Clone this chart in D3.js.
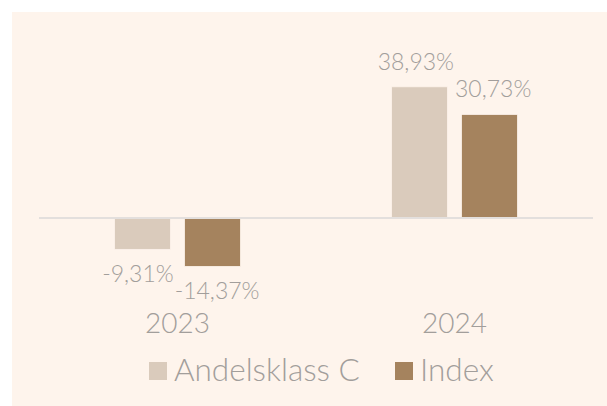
<!DOCTYPE html>
<html>
<head>
<meta charset="utf-8">
<script src="https://cdn.jsdelivr.net/npm/d3@7"></script>
<style>
  html, body { margin: 0; padding: 0; background: #ffffff; }
  svg { display: block; font-family: Lato, "Open Sans", sans-serif; font-weight: 300; }
</style>
</head>
<body>
<svg id="chart" width="607" height="406"></svg>
<script>
// chart data
const years = ["2023", "2024"];
const seriesNames = ["Andelsklass C", "Index"];
const andelsklassC = [-9.31, 38.93];
const indexValues = [-14.37, 30.73];
const seriesColors = ["#dacbbc", "#a5835e"];

const width = 607, height = 406;
const textColor = "#a29e9b";

const svg = d3.select("#chart");

// panel background
svg.append("rect")
  .attr("x", 12).attr("y", 12)
  .attr("width", width - 12).attr("height", height - 12)
  .attr("fill", "#fef4ec");

const x = d3.scaleBand()
  .domain(years)
  .range([39, 593]);

const xInner = d3.scaleBand()
  .domain(seriesNames)
  .range([-63, 63])
  .paddingInner(0.2);

const y = d3.scaleLinear()
  .domain([-20, 40])
  .range([218 + 67.4, 218 - 134.8]);

const fmt = v => d3.format(".2f")(v).replace(".", ",").replace("\u2212", "-") + "%";

const rows = [];
years.forEach((yr, i) => {
  rows.push({ year: yr, series: seriesNames[0], value: andelsklassC[i], color: seriesColors[0] });
  rows.push({ year: yr, series: seriesNames[1], value: indexValues[i], color: seriesColors[1] });
});

const barX = d => x(d.year) + x.bandwidth() / 2 + xInner(d.series);

// bars
svg.selectAll(".bar")
  .data(rows)
  .enter()
  .append("rect")
  .attr("class", "bar")
  .attr("x", d => barX(d))
  .attr("y", d => y(Math.max(0, d.value)))
  .attr("width", xInner.bandwidth())
  .attr("height", d => Math.abs(y(d.value) - y(0)))
  .attr("fill", d => d.color)
  .attr("stroke", "#fdf3ec")
  .attr("stroke-width", 0.8);

// zero line
svg.append("line")
  .attr("x1", x.range()[0]).attr("x2", x.range()[1])
  .attr("y1", y(0)).attr("y2", y(0))
  .attr("stroke", "#e3dfdd")
  .attr("stroke-width", 2);

// data labels
const labels = svg.selectAll(".value-label")
  .data(rows)
  .enter()
  .append("text")
  .attr("class", "value-label")
  .attr("x", d => barX(d) + xInner.bandwidth() / 2)
  .attr("y", d => d.value >= 0 ? y(d.value) - 17 : y(d.value) + 33)
  .attr("text-anchor", "middle")
  .style("font-size", "23px")
  .attr("fill", textColor)
  .text(d => fmt(d.value));

// push apart labels of the same year when they touch
const nodes = labels.nodes();
for (let i = 0; i < nodes.length; i += 2) {
  const a = d3.select(nodes[i]), b = d3.select(nodes[i + 1]);
  const wa = nodes[i].getComputedTextLength(), wb = nodes[i + 1].getComputedTextLength();
  const ax = +a.attr("x"), bx = +b.attr("x");
  const overlap = (ax + wa / 2) - (bx - wb / 2) + 1;
  if (overlap > 0) {
    a.attr("x", ax - overlap / 2);
    b.attr("x", bx + overlap / 2);
  }
}

// category labels
const xAxis = svg.append("g")
  .attr("transform", "translate(0,333)")
  .call(d3.axisBottom(x).tickSize(0).tickPadding(0));
xAxis.select(".domain").remove();
xAxis.selectAll("text")
  .attr("dy", 0)
  .attr("y", 0)
  .style("font-family", "Lato, sans-serif")
  .style("font-weight", 300)
  .style("font-size", "28px")
  .attr("fill", textColor);

// legend
const legend = svg.append("g").attr("class", "legend");
const legendX = [149, 395];
seriesNames.forEach((name, i) => {
  const g = legend.append("g").attr("transform", "translate(" + legendX[i] + ",0)");
  g.append("rect")
    .attr("x", 0).attr("y", 362)
    .attr("width", 18).attr("height", 18)
    .attr("fill", seriesColors[i]);
  g.append("text")
    .attr("x", 25).attr("y", 381)
    .style("font-size", "31.5px")
    .attr("fill", textColor)
    .text(name);
});
</script>
</body>
</html>
